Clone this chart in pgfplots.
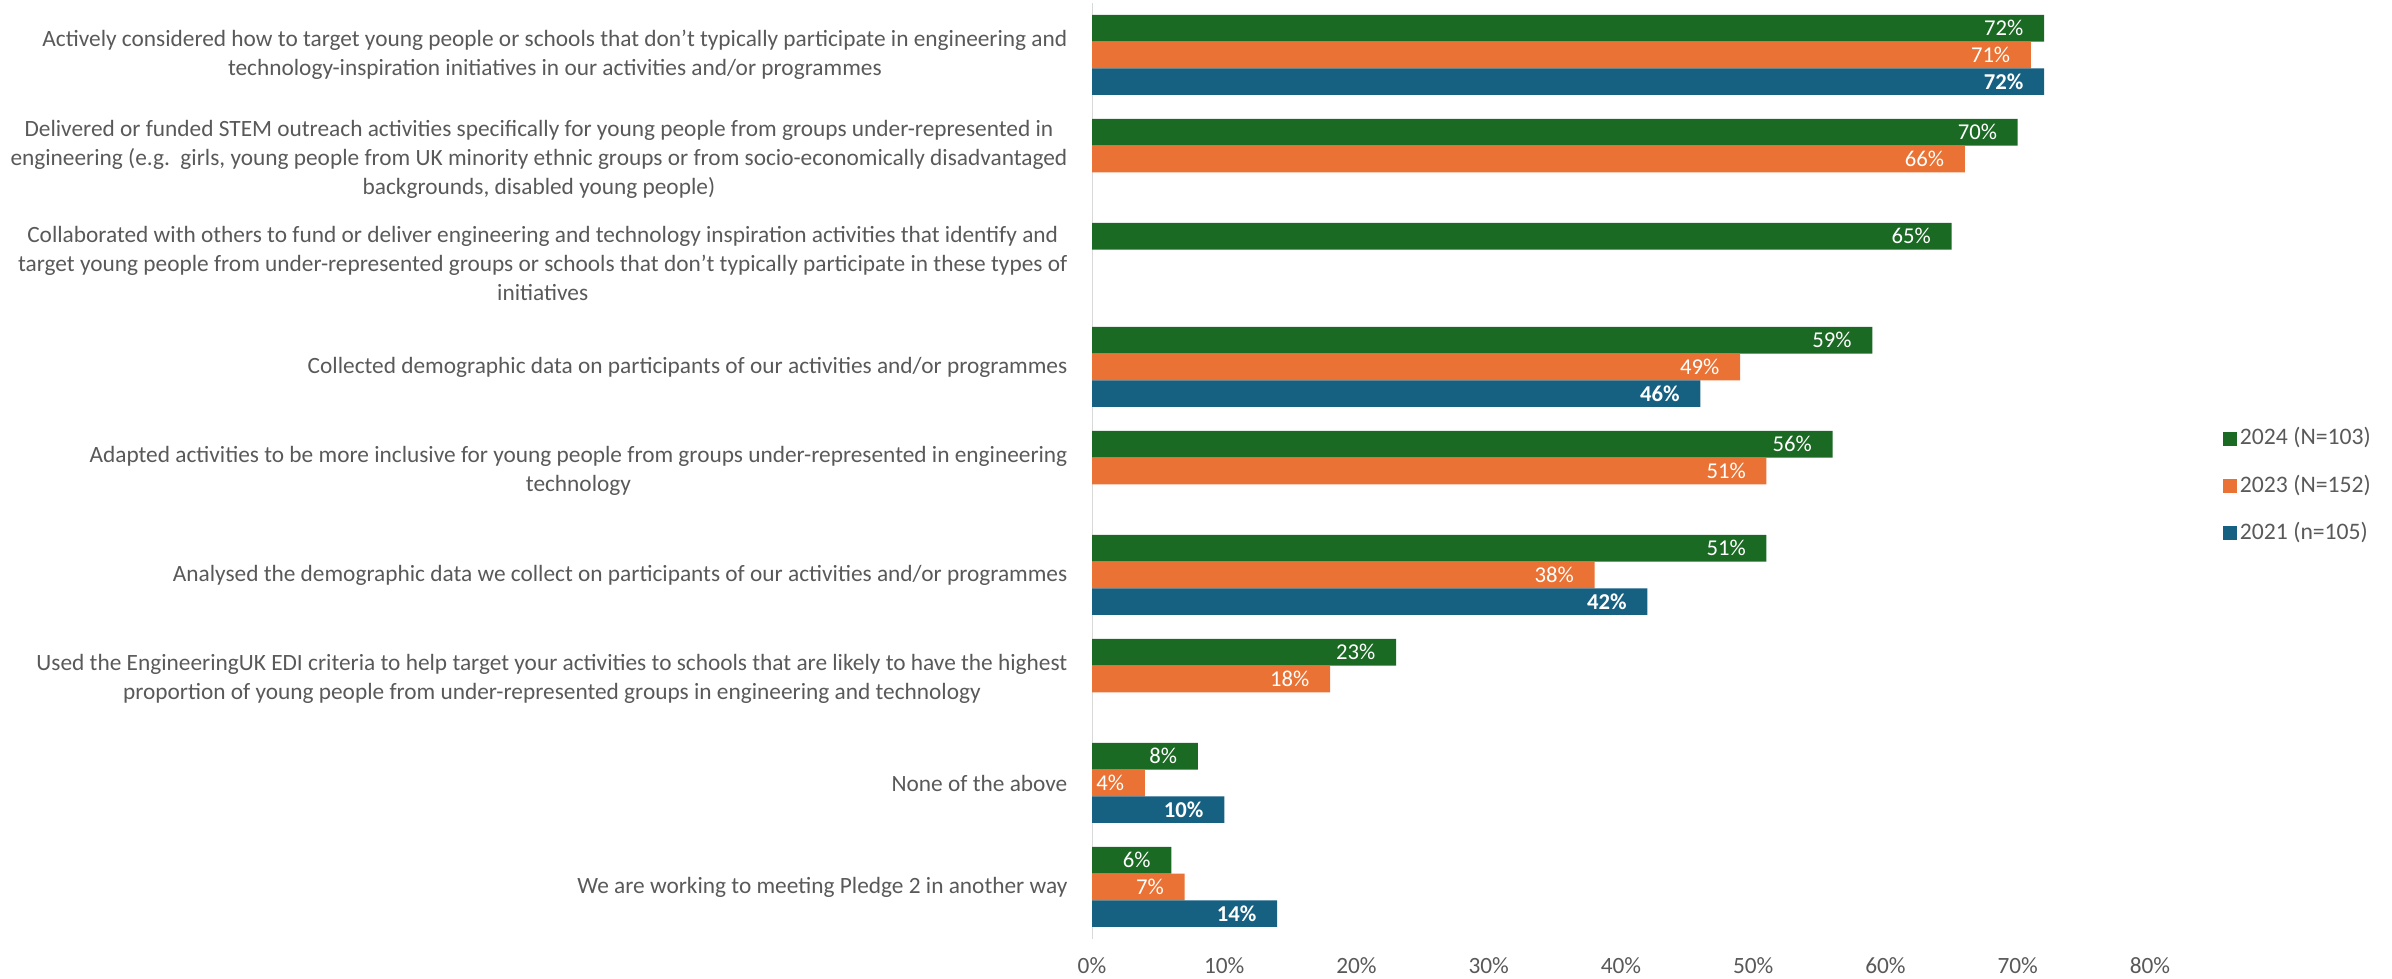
\documentclass[border=0pt]{standalone}
\usepackage{fontspec}
\setmainfont{Carlito}
\usepackage{pgfplots}
\pgfplotsset{compat=1.18}
\definecolor{cgreen}{RGB}{27,106,36}
\definecolor{corange}{RGB}{233,114,52}
\definecolor{cblue}{RGB}{22,96,130}
\definecolor{ctext}{RGB}{89,89,89}
\definecolor{caxis}{RGB}{217,217,217}
\begin{document}
\begin{tikzpicture}
\useasboundingbox (0,0) rectangle (717.6pt,293.7pt);
\begin{axis}[
  at={(327.6pt,12pt)}, anchor=south west,
  scale only axis, width=317.4pt, height=280.8pt,
  xbar, bar width=8pt,
  xmin=0, xmax=80, ymin=-0.5, ymax=8.5,
  axis line style={draw=none},
  axis y line*=left, axis x line*=bottom,
  major tick length=0pt,
  /pgf/number format/assume math mode=true,
  xtick={0,10,...,80},
  xticklabels={0\%,10\%,20\%,30\%,40\%,50\%,60\%,70\%,80\%},
  xticklabel style={font=\fontsize{7}{8}\selectfont, text=ctext, yshift=-2pt},
  ytick={0,...,8},
  yticklabels={
    {We are working to meeting Pledge 2 in another way},
    {None of the above},
    {Used the EngineeringUK EDI criteria to help target your activities to schools that are likely to have the highest\\proportion of young people from under-represented groups in engineering and technology},
    {Analysed the demographic data we collect on participants of our activities and/or programmes},
    {Adapted activities to be more inclusive for young people from groups under-represented in engineering\\technology},
    {Collected demographic data on participants of our activities and/or programmes},
    {Collaborated with others to fund or deliver engineering and technology inspiration activities that identify and\\target young people from under-represented groups or schools that don’t typically participate in these types of\\initiatives},
    {Delivered or funded STEM outreach activities specifically for young people from groups under-represented in\\engineering (e.g.\ \ girls, young people from UK minority ethnic groups or from socio-economically disadvantaged\\backgrounds, disabled young people)},
    {Actively considered how to target young people or schools that don’t typically participate in engineering and\\technology-inspiration initiatives in our activities and/or programmes}
  },
  yticklabel style={font=\fontsize{7}{8.7}\selectfont, text=ctext, align=center, anchor=east, inner sep=0pt, xshift=-7.2pt},
  point meta=x,
  nodes near coords={\pgfmathprintnumber[fixed,precision=0,assume math mode=true]{\pgfplotspointmeta}\%},
  legend style={at={(1.0586,0.484)}, anchor=west, draw=none, fill=none,
    font=\fontsize{7.1}{8}\selectfont, text=ctext, row sep=5.5pt,
    nodes={inner sep=1pt}},
  legend cell align=left,
  legend image code/.code={\fill[#1] (0pt,-2.1pt) rectangle (4.2pt,2.1pt);},
]
\draw[caxis, line width=0.6pt] (axis cs:0,-0.5) -- (axis cs:0,8.5);
\addplot[fill=cgreen, draw=none, bar shift=8pt,
  every node near coord/.append style={anchor=east, xshift=-2.7pt, text=white, font=\fontsize{6.8}{8}\selectfont}]
  coordinates {(72,8) (70,7) (65,6) (59,5) (56,4) (51,3) (23,2) (8,1) (6,0)};
\addlegendentry{2024 (N=103)}
\addplot[fill=corange, draw=none, bar shift=0pt,
  every node near coord/.append style={anchor=east, xshift=-2.7pt, text=white, font=\fontsize{6.8}{8}\selectfont}]
  coordinates {(71,8) (66,7) (49,5) (51,4) (38,3) (18,2) (4,1) (7,0)};
\addlegendentry{2023 (N=152)}
\addplot[fill=cblue, draw=none, bar shift=-8pt,
  every node near coord/.append style={anchor=east, xshift=-2.7pt, text=white, font=\bfseries\fontsize{6.8}{8}\selectfont}]
  coordinates {(72,8) (46,5) (42,3) (10,1) (14,0)};
\addlegendentry{2021 (n=105)}
\end{axis}
\end{tikzpicture}
\end{document}
